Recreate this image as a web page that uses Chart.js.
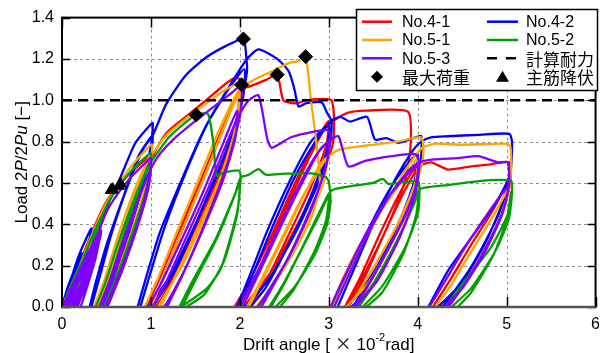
<!DOCTYPE html>
<html>
<head>
<meta charset="utf-8">
<script src="https://cdn.jsdelivr.net/npm/chart.js@4"></script>
<style>
  html, body { margin: 0; padding: 0; background: #fff; }
  #wrap { width: 608px; height: 353px; }
</style>
</head>
<body>
<div id="wrap"><canvas id="chart" width="608" height="353"></canvas></div>
<script>
// Drift angle [x10^-2 rad], load 2P/2Pu. null = pen up (the loop goes below 0, out of view)

const no41 = [
  [0,0],[0.08,0.09],[0.16,0.18],[0.24,0.25],[0.2,0.17],[0.12,0.06],[0.07,0], null,
  [0.04,0],[0.14,0.14],[0.28,0.3],[0.42,0.44],[0.38,0.34],[0.28,0.18],[0.17,0.04],[0.13,0], null,
  [0.1,0],[0.2,0.13],[0.32,0.32],[0.45,0.47],[0.58,0.56],[0.75,0.64],[0.9,0.7],[1.0,0.73],[0.98,0.63],[0.85,0.45],[0.68,0.24],[0.52,0.07],[0.44,0], null,
  [0.38,0],[0.5,0.12],[0.65,0.32],[0.82,0.53],[0.95,0.66],[1.0,0.7],[0.97,0.6],[0.84,0.42],[0.66,0.2],[0.5,0.03],[0.47,0], null,
  [0.42,0],[0.55,0.13],[0.7,0.34],[0.86,0.56],[1.0,0.71],[1.17,0.84],[1.39,0.92],[1.62,1.0],[1.84,1.08],[1.95,1.11],[2.0,1.1],[1.98,0.95],[1.85,0.72],[1.62,0.47],[1.38,0.24],[1.15,0.06],[1.05,0], null,
  [0.95,0],[1.1,0.14],[1.3,0.35],[1.55,0.6],[1.8,0.86],[2.0,1.04],[1.97,0.9],[1.8,0.68],[1.57,0.45],[1.33,0.22],[1.12,0.04],[1.07,0], null,
  [1.0,0],[1.15,0.15],[1.35,0.37],[1.6,0.63],[1.85,0.9],[2.0,1.05],[2.13,1.07],[2.3,1.1],[2.42,1.124],[2.49,1.0],[2.64,0.985],[2.74,1.0],[3.03,1.0],[3.05,0.8],[2.9,0.62],[2.65,0.4],[2.35,0.17],[2.08,0.02],[2.04,0], null,
  [1.94,0],[2.1,0.12],[2.35,0.34],[2.6,0.58],[2.85,0.8],[3.0,0.9],[2.97,0.78],[2.8,0.58],[2.55,0.35],[2.3,0.13],[2.12,0.01],[2.1,0], null,
  [2.0,0],[2.2,0.17],[2.45,0.41],[2.7,0.65],[2.95,0.86],[3.05,0.9],[3.22,0.94],[3.41,0.95],[3.89,0.945],[3.92,0.78],[3.85,0.6],[3.65,0.38],[3.4,0.16],[3.22,0.02],[3.2,0], null,
  [3.18,0],[3.35,0.14],[3.55,0.33],[3.75,0.51],[3.93,0.65],[4.0,0.68],[3.98,0.58],[3.85,0.43],[3.62,0.24],[3.4,0.07],[3.3,0], null,
  [3.22,0],[3.42,0.16],[3.65,0.38],[3.85,0.56],[3.98,0.66],[4.0,0.68],[4.15,0.7],[4.34,0.665],[4.6,0.68],[4.82,0.69],[5.03,0.7],[5.04,0.6],[4.95,0.45],[4.75,0.27],[4.5,0.1],[4.3,0.01],[4.25,0], null,
  [4.17,0],[4.35,0.12],[4.6,0.3],[4.82,0.45],[4.97,0.57],[5.02,0.62],[5.0,0.52],[4.88,0.38],[4.65,0.2],[4.42,0.05],[4.35,0]
];

const no42 = [
  [0,0],[0.06,0.09],[0.14,0.18],[0.22,0.26],[0.18,0.18],[0.1,0.07],[0.05,0], null,
  [0.02,0],[0.1,0.13],[0.2,0.26],[0.33,0.38],[0.3,0.3],[0.2,0.14],[0.12,0.03],[0.1,0], null,
  [0.06,0],[0.145,0.16],[0.29,0.29],[0.41,0.37],[0.54,0.52],[0.63,0.6],[0.82,0.79],[0.95,0.86],[1.02,0.89],[1.0,0.78],[0.9,0.58],[0.72,0.32],[0.5,0.08],[0.4,0], null,
  [0.31,0],[0.38,0.12],[0.5,0.3],[0.68,0.52],[0.86,0.73],[1.02,0.83],[0.98,0.7],[0.84,0.5],[0.65,0.26],[0.46,0.04],[0.42,0], null,
  [0.33,0],[0.42,0.14],[0.56,0.36],[0.75,0.6],[0.92,0.77],[1.02,0.83],[1.17,0.98],[1.39,1.12],[1.62,1.207],[1.84,1.262],[2.04,1.297],[2.07,1.22],[2.08,1.14],[2.0,0.95],[1.8,0.7],[1.5,0.4],[1.2,0.14],[0.98,0.01],[0.95,0], null,
  [0.85,0],[0.93,0.12],[1.1,0.36],[1.35,0.62],[1.6,0.86],[1.85,1.04],[2.05,1.15],[2.03,1.0],[1.85,0.76],[1.58,0.48],[1.3,0.2],[1.05,0.02],[1.0,0], null,
  [0.88,0],[0.97,0.13],[1.15,0.38],[1.4,0.66],[1.65,0.9],[1.9,1.08],[2.08,1.2],[2.21,1.246],[2.42,1.2],[2.55,1.14],[2.61,1.06],[2.66,0.97],[2.74,0.985],[2.92,0.99],[2.98,0.94],[3.03,0.9],[3.02,0.8],[2.9,0.62],[2.65,0.38],[2.35,0.15],[2.08,0.01],[2.04,0], null,
  [1.97,0],[2.1,0.14],[2.3,0.36],[2.55,0.6],[2.8,0.8],[3.0,0.88],[2.98,0.76],[2.82,0.56],[2.58,0.33],[2.3,0.1],[2.12,0], null,
  [2.0,0],[2.15,0.16],[2.38,0.4],[2.62,0.63],[2.85,0.8],[3.03,0.9],[3.13,0.92],[3.24,0.897],[3.43,0.92],[3.52,0.81],[3.65,0.817],[3.78,0.794],[3.95,0.817],[4.04,0.826],[4.03,0.7],[3.9,0.5],[3.65,0.27],[3.35,0.07],[3.2,0], null,
  [3.05,0],[3.2,0.15],[3.45,0.38],[3.7,0.58],[3.9,0.7],[4.0,0.74],[3.97,0.62],[3.82,0.44],[3.55,0.2],[3.3,0.02],[3.25,0], null,
  [3.1,0],[3.28,0.18],[3.5,0.4],[3.75,0.62],[3.95,0.76],[4.04,0.8],[4.15,0.82],[4.34,0.826],[4.68,0.833],[5.03,0.838],[5.06,0.8],[5.05,0.68],[4.95,0.5],[4.75,0.3],[4.5,0.12],[4.25,0.01],[4.2,0], null,
  [4.12,0],[4.34,0.175],[4.6,0.333],[4.86,0.49],[4.99,0.59],[5.02,0.62],[4.96,0.5],[4.8,0.35],[4.58,0.18],[4.35,0.04],[4.28,0]
];

const no51 = [
  [0,0],[0.08,0.08],[0.17,0.17],[0.26,0.25],[0.22,0.17],[0.14,0.06],[0.09,0], null,
  [0.05,0],[0.15,0.14],[0.3,0.31],[0.44,0.45],[0.4,0.35],[0.3,0.19],[0.19,0.04],[0.15,0], null,
  [0.11,0],[0.22,0.14],[0.34,0.33],[0.47,0.48],[0.6,0.57],[0.76,0.67],[0.9,0.74],[1.01,0.786],[0.99,0.67],[0.87,0.47],[0.7,0.25],[0.53,0.07],[0.46,0], null,
  [0.36,0],[0.47,0.12],[0.62,0.33],[0.8,0.55],[0.94,0.69],[1.0,0.74],[0.97,0.63],[0.84,0.44],[0.66,0.21],[0.5,0.04],[0.47,0], null,
  [0.4,0],[0.52,0.14],[0.67,0.35],[0.84,0.57],[0.98,0.72],[1.05,0.76],[1.17,0.83],[1.39,0.91],[1.62,0.984],[1.8,1.04],[1.92,1.07],[2.0,1.08],[1.98,0.92],[1.83,0.68],[1.6,0.43],[1.35,0.2],[1.12,0.03],[1.08,0], null,
  [0.93,0],[1.07,0.13],[1.27,0.34],[1.52,0.6],[1.77,0.86],[1.98,1.04],[1.96,0.88],[1.8,0.65],[1.56,0.41],[1.3,0.17],[1.13,0.02],[1.1,0], null,
  [1.0,0],[1.14,0.14],[1.34,0.36],[1.59,0.62],[1.84,0.89],[2.02,1.06],[2.14,1.095],[2.36,1.14],[2.55,1.18],[2.66,1.19],[2.74,1.21],[2.8,1.0],[2.87,0.76],[2.9,0.6],[2.82,0.45],[2.6,0.26],[2.35,0.09],[2.18,0], null,
  [2.08,0],[2.25,0.14],[2.48,0.34],[2.7,0.53],[2.9,0.67],[2.98,0.72],[2.94,0.6],[2.78,0.44],[2.55,0.24],[2.3,0.05],[2.22,0], null,
  [2.1,0],[2.3,0.17],[2.55,0.39],[2.78,0.59],[2.92,0.7],[3.11,0.76],[3.41,0.78],[3.78,0.8],[4.04,0.82],[4.06,0.72],[3.95,0.55],[3.72,0.32],[3.45,0.12],[3.22,0.01],[3.18,0], null,
  [3.02,0],[3.15,0.13],[3.33,0.286],[3.63,0.49],[3.89,0.65],[4.0,0.72],[3.97,0.6],[3.82,0.44],[3.57,0.24],[3.3,0.05],[3.2,0], null,
  [3.05,0],[3.2,0.14],[3.4,0.32],[3.68,0.53],[3.92,0.7],[4.05,0.77],[4.2,0.79],[4.5,0.785],[4.97,0.79],[5.04,0.78],[5.05,0.65],[4.97,0.48],[4.78,0.29],[4.52,0.1],[4.3,0], null,
  [4.2,0],[4.38,0.11],[4.62,0.28],[4.85,0.44],[5.0,0.56],[5.04,0.6],[4.98,0.5],[4.85,0.36],[4.62,0.18],[4.4,0.03],[4.34,0]
];

const no52 = [
  [0,0],[0.08,0.08],[0.17,0.17],[0.26,0.25],[0.22,0.17],[0.14,0.06],[0.1,0], null,
  [0.06,0],[0.16,0.14],[0.3,0.3],[0.45,0.44],[0.41,0.34],[0.31,0.18],[0.2,0.04],[0.16,0], null,
  [0.12,0],[0.23,0.14],[0.35,0.32],[0.48,0.47],[0.6,0.56],[0.76,0.65],[0.9,0.71],[1.0,0.743],[0.98,0.63],[0.86,0.44],[0.69,0.23],[0.52,0.06],[0.46,0], null,
  [0.38,0],[0.49,0.12],[0.64,0.32],[0.82,0.53],[0.95,0.66],[1.0,0.7],[0.97,0.6],[0.84,0.42],[0.66,0.2],[0.51,0.03],[0.48,0], null,
  [0.42,0],[0.54,0.13],[0.69,0.34],[0.86,0.56],[1.0,0.7],[1.08,0.75],[1.2,0.82],[1.38,0.89],[1.51,0.929],[1.64,0.935],[1.7,0.8],[1.74,0.635],[1.82,0.65],[1.99,0.66],[2.01,0.627],[1.97,0.46],[1.79,0.19],[1.63,0.09],[1.34,0], null,
  [1.32,0],[1.47,0.127],[1.73,0.33],[1.94,0.54],[2.0,0.6],[1.97,0.45],[1.82,0.22],[1.6,0.06],[1.4,0], null,
  [1.35,0],[1.5,0.13],[1.75,0.34],[1.95,0.55],[2.01,0.627],[2.1,0.64],[2.21,0.667],[2.29,0.64],[2.5,0.645],[2.81,0.646],[2.96,0.63],[3.0,0.607],[3.02,0.51],[2.98,0.4],[2.85,0.26],[2.62,0.1],[2.4,0], null,
  [2.33,0],[2.5,0.12],[2.72,0.3],[2.9,0.45],[3.0,0.54],[2.97,0.42],[2.84,0.27],[2.6,0.08],[2.45,0], null,
  [2.35,0],[2.52,0.13],[2.75,0.33],[2.93,0.49],[3.03,0.564],[3.3,0.588],[3.5,0.6],[3.61,0.62],[3.67,0.595],[4.0,0.61],[4.02,0.57],[4.0,0.45],[3.85,0.28],[3.6,0.1],[3.38,0], null,
  [3.31,0],[3.52,0.127],[3.78,0.333],[3.95,0.49],[4.01,0.556],[3.98,0.44],[3.84,0.26],[3.6,0.07],[3.42,0], null,
  [3.34,0],[3.55,0.14],[3.8,0.35],[3.97,0.51],[4.02,0.57],[4.34,0.59],[4.71,0.61],[4.9,0.615],[5.05,0.61],[5.06,0.55],[5.02,0.42],[4.86,0.26],[4.6,0.09],[4.38,0], null,
  [4.32,0],[4.53,0.127],[4.82,0.286],[5.01,0.445],[5.05,0.556],[5.0,0.42],[4.85,0.25],[4.6,0.07],[4.45,0]
];

const no53 = [
  [0,0],[0.1,0.08],[0.2,0.17],[0.3,0.26],[0.38,0.33],[0.43,0.37],[0.37,0.28],[0.27,0.16],[0.17,0.05],[0.13,0], null,
  [0.02,0],[0.12,0.1],[0.24,0.21],[0.35,0.31],[0.42,0.36],[0.35,0.25],[0.25,0.13],[0.16,0.02],[0.15,0], null,
  [0.04,0],[0.12,0.07],[0.22,0.16],[0.33,0.27],[0.44,0.37],[0.39,0.27],[0.3,0.17],[0.2,0.06],[0.17,0], null,
  [0.01,0],[0.08,0.07],[0.18,0.16],[0.28,0.25],[0.36,0.31],[0.3,0.21],[0.2,0.09],[0.12,0], null,
  [0.05,0],[0.15,0.09],[0.26,0.19],[0.37,0.29],[0.44,0.36],[0.36,0.23],[0.26,0.1],[0.19,0.02],[0.18,0], null,
  [0,0],[0.06,0.05],[0.12,0.1],[0.18,0.14],[0.15,0.08],[0.08,0.01],[0.06,0], null,
  [0.03,0],[0.12,0.08],[0.22,0.17],[0.32,0.25],[0.28,0.17],[0.18,0.05],[0.13,0], null,
  [0.06,0],[0.16,0.1],[0.28,0.22],[0.4,0.34],[0.43,0.37],[0.38,0.27],[0.28,0.12],[0.19,0.02],[0.16,0], null,
  [0.1,0],[0.2,0.1],[0.32,0.24],[0.43,0.36],[0.38,0.24],[0.27,0.08],[0.21,0], null,
  [0.14,0],[0.25,0.13],[0.37,0.31],[0.5,0.46],[0.63,0.55],[0.78,0.63],[0.92,0.69],[1.0,0.72],[0.98,0.62],[0.87,0.43],[0.7,0.22],[0.54,0.05],[0.49,0], null,
  [0.42,0],[0.53,0.12],[0.68,0.31],[0.85,0.51],[0.96,0.63],[1.0,0.67],[0.97,0.57],[0.85,0.39],[0.68,0.18],[0.54,0.03],[0.51,0], null,
  [0.45,0],[0.57,0.13],[0.72,0.33],[0.88,0.54],[1.0,0.67],[1.1,0.74],[1.25,0.81],[1.5,0.9],[1.8,1.0],[1.92,1.04],[2.02,1.075],[2.0,0.92],[1.85,0.68],[1.62,0.42],[1.38,0.18],[1.18,0.02],[1.14,0], null,
  [0.97,0],[1.12,0.12],[1.35,0.33],[1.6,0.57],[1.82,0.8],[1.97,0.95],[1.95,0.82],[1.8,0.6],[1.58,0.37],[1.34,0.14],[1.18,0], null,
  [1.02,0],[1.18,0.13],[1.4,0.34],[1.65,0.58],[1.85,0.79],[1.97,0.91],[2.1,1.0],[2.21,1.024],[2.31,0.81],[2.36,0.77],[2.57,0.82],[2.74,0.84],[2.98,0.857],[3.02,0.83],[2.97,0.68],[2.8,0.47],[2.55,0.24],[2.28,0.05],[2.2,0], null,
  [1.99,0],[2.15,0.13],[2.38,0.33],[2.62,0.55],[2.85,0.73],[3.0,0.8],[2.97,0.68],[2.82,0.5],[2.58,0.27],[2.32,0.06],[2.24,0], null,
  [2.03,0],[2.2,0.15],[2.45,0.38],[2.7,0.6],[2.9,0.76],[3.02,0.81],[3.11,0.826],[3.22,0.68],[3.41,0.707],[3.71,0.73],[3.97,0.74],[4.02,0.7],[3.97,0.54],[3.8,0.34],[3.55,0.13],[3.3,0], null,
  [3.02,0],[3.17,0.14],[3.4,0.34],[3.65,0.52],[3.88,0.64],[4.0,0.68],[3.97,0.57],[3.82,0.41],[3.58,0.21],[3.33,0.03],[3.27,0], null,
  [3.06,0],[3.22,0.15],[3.45,0.36],[3.7,0.55],[3.92,0.67],[4.02,0.7],[4.19,0.714],[4.45,0.72],[4.68,0.73],[4.9,0.7],[5.01,0.7],[5.03,0.6],[4.95,0.45],[4.76,0.27],[4.5,0.09],[4.3,0], null,
  [4.13,0],[4.3,0.12],[4.55,0.3],[4.8,0.46],[4.97,0.56],[5.02,0.58],[4.97,0.48],[4.83,0.34],[4.6,0.16],[4.38,0.02],[4.32,0]
];

// 最大荷重 (max load) and 主筋降伏 (main bar yield) markers
const maxLoadX = [2.04, 2.42, 2.74, 1.51, 2.02];
const maxLoadY = [1.297, 1.124, 1.211, 0.929, 1.075];
const yieldX = [0.55, 0.57, 0.64, 0.66];
const yieldY = [0.565, 0.57, 0.585, 0.595];

// 計算耐力 (calculated strength)
const calcX = [0, 6];
const calcY = [1.0, 1.0];

const seriesNames = ['No.4-1', 'No.4-2', 'No.5-1', 'No.5-2', 'No.5-3'];
const seriesColors = ['#ff0000', '#0000ff', '#ffa500', '#00a000', '#8000ff'];

const LATIN = "'Liberation Sans', Arial, sans-serif";
const CJK = "'Noto Sans CJK JP', sans-serif";

function toPoints(list) {
  return list.map(p => p ? { x: p[0], y: p[1] } : { x: null, y: null });
}
function zipPoints(xs, ys) {
  return xs.map((x, i) => ({ x, y: ys[i] }));
}

const loops = [no41, no42, no51, no52, no53];
const lineSets = loops.map((d, i) => ({
  label: seriesNames[i],
  data: toPoints(d),
  showLine: true,
  borderColor: seriesColors[i],
  borderWidth: 2.3,
  tension: 0.2,
  pointRadius: 0,
  fill: false,
  order: 7 - i
}));

const datasets = [
  {
    label: '最大荷重',
    data: zipPoints(maxLoadX, maxLoadY),
    pointStyle: 'rectRot', pointRadius: 7,
    backgroundColor: '#000', borderColor: '#000', borderWidth: 1,
    showLine: false, clip: false, order: 0
  },
  {
    label: '主筋降伏',
    data: zipPoints(yieldX, yieldY),
    pointStyle: 'triangle', pointRadius: 6.5,
    backgroundColor: '#000', borderColor: '#000', borderWidth: 1,
    showLine: false, clip: false, order: 0
  },
  {
    label: '計算耐力',
    data: zipPoints(calcX, calcY),
    showLine: true, borderColor: '#000', borderWidth: 2.5, borderDash: [10, 6],
    pointRadius: 0, order: 1
  },
  ...lineSets
];

// gridlines, frame with inward ticks, titles and the boxed legend
const decor = {
  id: 'decor',
  beforeDatasetsDraw(chart) {
    const { ctx, chartArea: a, scales: { x, y } } = chart;
    ctx.save();
    ctx.strokeStyle = '#909090';
    ctx.lineWidth = 1;
    ctx.setLineDash([3, 3]);
    ctx.beginPath();
    x.ticks.forEach(t => {
      if (t.value <= x.min || t.value >= x.max) return;
      const px = Math.round(x.getPixelForValue(t.value)) + 0.5;
      ctx.moveTo(px, a.top); ctx.lineTo(px, a.bottom);
    });
    y.ticks.forEach(t => {
      if (t.value <= y.min || t.value >= y.max) return;
      const py = Math.round(y.getPixelForValue(t.value)) + 0.5;
      ctx.moveTo(a.left, py); ctx.lineTo(a.right, py);
    });
    ctx.stroke();
    ctx.restore();
  },
  afterDatasetsDraw(chart) {
    const { ctx, chartArea: a, scales: { x, y } } = chart;
    ctx.save();
    ctx.strokeStyle = '#000';
    ctx.lineWidth = 1.5;
    ctx.beginPath();
    x.ticks.forEach(t => {
      const px = Math.round(x.getPixelForValue(t.value)) + 0.5;
      ctx.moveTo(px, a.top); ctx.lineTo(px, a.top + 10);
      ctx.moveTo(px, a.bottom); ctx.lineTo(px, a.bottom - 10);
    });
    y.ticks.forEach(t => {
      const py = Math.round(y.getPixelForValue(t.value)) + 0.5;
      ctx.moveTo(a.left, py); ctx.lineTo(a.left + 8, py);
      ctx.moveTo(a.right, py); ctx.lineTo(a.right - 8, py);
    });
    ctx.stroke();
    ctx.lineWidth = 2;
    ctx.strokeRect(a.left, a.top, a.right - a.left, a.bottom - a.top);
    ctx.strokeStyle = '#555';
    ctx.lineWidth = 2.5;
    ctx.beginPath();
    ctx.moveTo(a.left, a.bottom); ctx.lineTo(a.right, a.bottom);
    ctx.stroke();
    ctx.restore();
  },
  afterDraw(chart) {
    const { ctx, chartArea: a } = chart;
    ctx.save();
    ctx.fillStyle = '#000';
    ctx.textBaseline = 'alphabetic';

    // x title: Drift angle [×10^-2 rad]
    const xParts = [
      ['Drift angle [ ', `17px ${LATIN}`, 0],
      ['×', `17px ${CJK}`, 0],
      [' 10', `17px ${LATIN}`, 0],
      ['-2', `11px ${LATIN}`, -9],
      ['rad]', `17px ${LATIN}`, 0]
    ];
    let total = 0;
    xParts.forEach(p => { ctx.font = p[1]; total += ctx.measureText(p[0]).width; });
    let cx = (a.left + a.right) / 2 - total / 2;
    xParts.forEach(p => {
      ctx.font = p[1];
      ctx.fillText(p[0], cx, 350 + p[2]);
      cx += ctx.measureText(p[0]).width;
    });

    // y title: Load 2P/2Pu [−]
    const yParts = [
      ['Load 2', `17px ${LATIN}`],
      ['P', `italic 17px ${LATIN}`],
      ['/2', `17px ${LATIN}`],
      ['Pu', `italic 17px ${LATIN}`],
      [' [−]', `17px ${LATIN}`]
    ];
    ctx.save();
    ctx.translate(21, (a.top + a.bottom) / 2);
    ctx.rotate(-Math.PI / 2);
    total = 0;
    yParts.forEach(p => { ctx.font = p[1]; total += ctx.measureText(p[0]).width; });
    cx = -total / 2;
    yParts.forEach(p => {
      ctx.font = p[1];
      ctx.fillText(p[0], cx, 6);
      cx += ctx.measureText(p[0]).width;
    });
    ctx.restore();

    // legend box
    const bx = 356.5, by = 9.5, bw = 241, bh = 81;
    ctx.fillStyle = '#fff';
    ctx.fillRect(bx, by, bw, bh);
    ctx.strokeStyle = '#000';
    ctx.lineWidth = 1.5;
    ctx.strokeRect(bx, by, bw, bh);

    const rows = [21.7, 40, 58.3, 76.7];
    const cols = [{ l0: 362, l1: 392, tx: 402 }, { l0: 487, l1: 518, tx: 526 }];
    const items = [
      { kind: 'line', color: seriesColors[0], text: seriesNames[0], r: 0, c: 0 },
      { kind: 'line', color: seriesColors[1], text: seriesNames[1], r: 0, c: 1 },
      { kind: 'line', color: seriesColors[2], text: seriesNames[2], r: 1, c: 0 },
      { kind: 'line', color: seriesColors[3], text: seriesNames[3], r: 1, c: 1 },
      { kind: 'line', color: seriesColors[4], text: seriesNames[4], r: 2, c: 0 },
      { kind: 'dash', color: '#000', text: '計算耐力', r: 2, c: 1 },
      { kind: 'diamond', color: '#000', text: '最大荷重', r: 3, c: 0 },
      { kind: 'triangle', color: '#000', text: '主筋降伏', r: 3, c: 1 }
    ];
    ctx.textBaseline = 'middle';
    items.forEach(it => {
      const yy = rows[it.r], col = cols[it.c];
      const mx = (col.l0 + col.l1) / 2;
      ctx.strokeStyle = it.color;
      ctx.fillStyle = it.color;
      if (it.kind === 'line' || it.kind === 'dash') {
        ctx.lineWidth = 2.5;
        ctx.setLineDash(it.kind === 'dash' ? [10, 9] : []);
        ctx.beginPath();
        ctx.moveTo(col.l0, yy); ctx.lineTo(col.l1, yy);
        ctx.stroke();
        ctx.setLineDash([]);
      } else if (it.kind === 'diamond') {
        ctx.beginPath();
        ctx.moveTo(mx, yy - 6); ctx.lineTo(mx + 6, yy); ctx.lineTo(mx, yy + 6); ctx.lineTo(mx - 6, yy);
        ctx.closePath(); ctx.fill();
      } else {
        ctx.beginPath();
        ctx.moveTo(mx, yy - 6); ctx.lineTo(mx + 6.5, yy + 5); ctx.lineTo(mx - 6.5, yy + 5);
        ctx.closePath(); ctx.fill();
      }
      ctx.fillStyle = '#000';
      const isLatin = /^No/.test(it.text);
      ctx.font = isLatin ? `16px ${LATIN}` : `17px ${CJK}`;
      ctx.fillText(it.text, col.tx, yy + 1);
    });
    ctx.restore();
  }
};

new Chart(document.getElementById('chart'), {
  type: 'scatter',
  data: { datasets },
  plugins: [decor],
  options: {
    responsive: false,
    animation: false,
    layout: { padding: { top: 13, right: 10, left: 0, bottom: 0 } },
    plugins: { legend: { display: false }, tooltip: { enabled: false } },
    scales: {
      x: {
        type: 'linear', min: 0, max: 6,
        ticks: { stepSize: 1, color: '#000', padding: 8, font: { family: LATIN, size: 16 } },
        grid: { display: false, drawTicks: false },
        border: { display: false },
        afterFit(s) { s.height = 46; }
      },
      y: {
        type: 'linear', min: 0, max: 1.4,
        ticks: { stepSize: 0.2, color: '#000', padding: 8, font: { family: LATIN, size: 16 },
                 callback: v => v.toFixed(1) },
        grid: { display: false, drawTicks: false },
        border: { display: false },
        afterFit(s) { s.height; s.width = 62; }
      }
    }
  }
});
</script>
</body>
</html>
